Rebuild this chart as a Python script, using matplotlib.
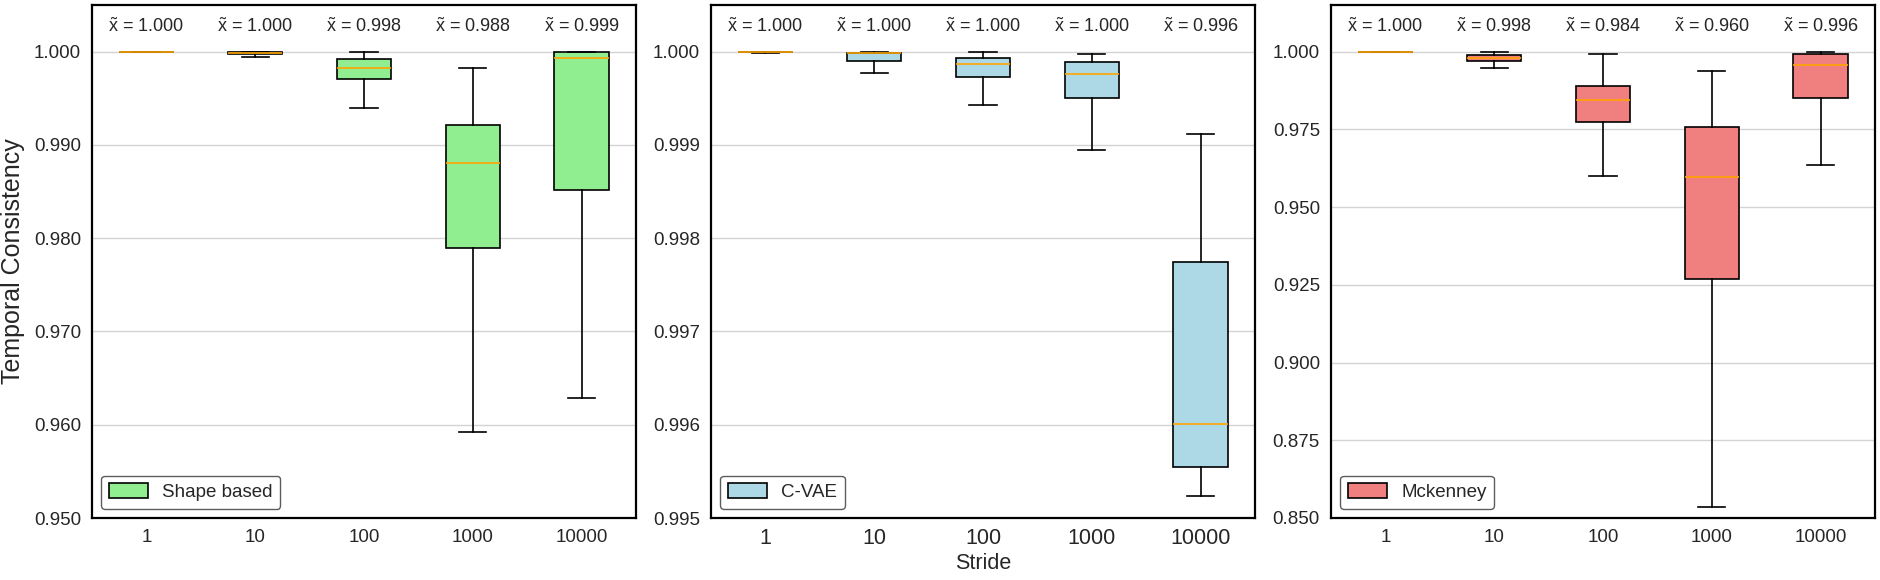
import numpy as np
import matplotlib
matplotlib.use("Agg")
import matplotlib.pyplot as plt

plt.rcParams['font.family'] = ['Liberation Sans', 'DejaVu Sans']
plt.rcParams['mathtext.fontset'] = 'custom'
plt.rcParams['mathtext.rm'] = 'Liberation Sans'

strides = ["1", "10", "100", "1000", "10000"]

# per-method box stats: whisker low, q1, median, q3, whisker high
shape_lo  = [0.99999, 0.99946, 0.99398, 0.95925, 0.96290]
shape_q1  = [0.99999, 0.99975, 0.99710, 0.97892, 0.98516]
shape_med = [1.00000, 0.99989, 0.99828, 0.98806, 0.99935]
shape_q3  = [1.00000, 1.00000, 0.99925, 0.99215, 0.99998]
shape_hi  = [1.00000, 1.00000, 1.00000, 0.99828, 1.00000]

cvae_lo  = [0.999990, 0.999774, 0.99943, 0.99895, 0.99524]
cvae_q1  = [0.999995, 0.999903, 0.99973, 0.99950, 0.99555]
cvae_med = [1.000000, 0.999982, 0.99987, 0.99976, 0.99601]
cvae_q3  = [1.000000, 0.999990, 0.999935, 0.99989, 0.99775]
cvae_hi  = [1.000000, 1.000000, 1.000000, 0.99997, 0.999118]

mck_lo  = [0.99990, 0.99481, 0.96006, 0.85360, 0.96364]
mck_q1  = [0.99995, 0.99708, 0.97727, 0.92673, 0.98506]
mck_med = [1.00000, 0.99805, 0.98442, 0.95960, 0.99567]
mck_q3  = [1.00000, 0.99881, 0.98896, 0.97587, 0.99935]
mck_hi  = [1.00000, 1.00000, 0.99935, 0.99383, 1.00000]

methods = ["Shape based", "C-VAE", "Mckenney"]
colors = ["lightgreen", "lightblue", "lightcoral"]
ylims = [(0.95, 1.005), (0.995, 1.0005), (0.85, 1.015)]
ysteps = [0.01, 0.001, 0.025]
data = [
    (shape_lo, shape_q1, shape_med, shape_q3, shape_hi),
    (cvae_lo, cvae_q1, cvae_med, cvae_q3, cvae_hi),
    (mck_lo, mck_q1, mck_med, mck_q3, mck_hi),
]

fig = plt.figure(figsize=(18.8, 5.8), dpi=100)
lefts = [92, 711, 1331]
txt = '#262626'

for k in range(3):
    ax = fig.add_axes([lefts[k] / 1880, 62 / 580, 544 / 1880, 513 / 580])
    lo, q1, med, q3, hi = data[k]
    stats = []
    for i in range(len(strides)):
        stats.append(dict(whislo=lo[i], q1=q1[i], med=med[i], q3=q3[i],
                          whishi=hi[i], fliers=[], label=strides[i]))
    bp = ax.bxp(stats, positions=range(1, 6), widths=0.5, patch_artist=True,
                showfliers=False,
                boxprops=dict(facecolor=colors[k], edgecolor='black', linewidth=1.2),
                medianprops=dict(color='orange', linewidth=1.2),
                whiskerprops=dict(color='black', linewidth=1.2),
                capprops=dict(color='black', linewidth=1.2))
    ax.set_xlim(0.5, 5.5)
    ax.set_ylim(*ylims[k])
    ticks = np.arange(ylims[k][0], 1.0 + ysteps[k] / 2, ysteps[k])
    ax.set_yticks(ticks)
    ax.set_yticklabels(["%.3f" % t for t in ticks])
    ax.yaxis.grid(True, color='#d3d3d3', linewidth=1.0)
    ax.set_axisbelow(True)
    ax.tick_params(axis='both', length=0, pad=8, labelsize=13.5, colors=txt)
    if k == 1:
        ax.tick_params(axis='x', labelsize=15.5, pad=7)
        ax.set_xlabel("Stride", fontsize=15.5, color=txt, labelpad=3)
    if k == 0:
        ax.set_ylabel("Temporal Consistency", fontsize=18, color=txt, labelpad=6)
    for s in ax.spines.values():
        s.set_color('black')
        s.set_linewidth(1.6)

    for i in range(len(strides)):
        ax.text(i + 1, 0.958, r"$\tilde{\mathrm{x}}$ = %.3f" % med[i],
                transform=ax.get_xaxis_transform(),
                ha='center', va='center', fontsize=13, color=txt)

    leg = ax.legend([bp['boxes'][0]], [methods[k]], loc='lower left', fontsize=13.5,
                    frameon=True, fancybox=True, borderaxespad=0.5,
                    handlelength=2.1, handleheight=0.85, handletextpad=0.75)
    leg.get_frame().set_edgecolor('#333333')
    leg.get_frame().set_linewidth(1.0)
    for t in leg.get_texts():
        t.set_color(txt)

fig.savefig("out.png", dpi=100)
